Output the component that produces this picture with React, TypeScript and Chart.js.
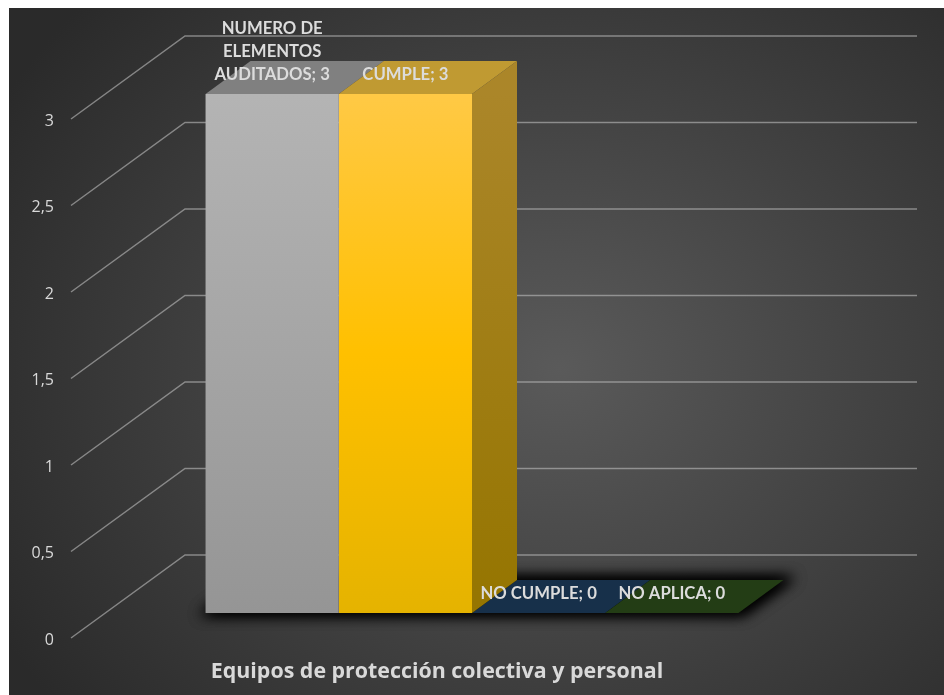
import React, { useEffect, useRef } from "react";
import { Chart, registerables } from "chart.js";

Chart.register(...registerables);

const categories = ["Equipos de protección colectiva y personal"];
const seriesNames = ["NUMERO DE ELEMENTOS AUDITADOS", "CUMPLE", "NO CUMPLE", "NO APLICA"];
const seriesValues = [3, 3, 0, 0];
const labelLines = [["NUMERO DE", "ELEMENTOS", "AUDITADOS"], ["CUMPLE"], ["NO CUMPLE"], ["NO APLICA"]];
const frontStops = [
  ["#b4b4b4", "#a5a5a5", "#959595"],
  ["#ffc945", "#ffc000", "#e5b300"],
  ["#17304a", "#17304a", "#17304a"],
  ["#233d15", "#233d15", "#233d15"],
];
const topColors = ["#808080", "#c09a32", "#17304a", "#233d15"];
const sideStops = ["#ab8629", "#957500"];

const W = 935;
const H = 687;
// depth of the floor, and the position of the bars inside it
const depth = { dx: 114, dy: -83 };
const barFront = { dx: 35, dy: -25 };
const barDepth = { dx: 45, dy: -33 };

function poly(ctx: CanvasRenderingContext2D, pts: number[][]) {
  ctx.beginPath();
  pts.forEach((p, i) => (i ? ctx.lineTo(p[0], p[1]) : ctx.moveTo(p[0], p[1])));
  ctx.closePath();
}

const scene3d = {
  id: "scene3d",
  beforeDraw(chart: any) {
    const ctx: CanvasRenderingContext2D = chart.ctx;
    ctx.save();
    ctx.translate(550, 360);
    ctx.scale(1, 0.85);
    const g = ctx.createRadialGradient(0, 0, 0, 0, 0, 640);
    g.addColorStop(0, "#5a5a5a");
    g.addColorStop(1, "#2a2a2a");
    ctx.fillStyle = g;
    ctx.fillRect(-800, -800, 1600, 1600);
    ctx.restore();
  },
  beforeDatasetsDraw(chart: any) {
    const ctx: CanvasRenderingContext2D = chart.ctx;
    const y = chart.scales.y;
    const { left, right } = chart.chartArea;

    // walls: diagonal plus horizontal gridline
    ctx.save();
    ctx.strokeStyle = "rgba(190,190,190,0.6)";
    ctx.lineWidth = 1.5;
    y.ticks.forEach((t: any) => {
      const py = y.getPixelForValue(t.value);
      ctx.beginPath();
      ctx.moveTo(left, py);
      ctx.lineTo(left + depth.dx, py + depth.dy);
      ctx.lineTo(right + depth.dx, py + depth.dy);
      ctx.stroke();
    });
    ctx.restore();

    const metas = seriesValues.map((_, i) => chart.getDatasetMeta(i).data[0]);
    const oy = barFront.dy;
    const ox = barFront.dx;
    const base = y.getPixelForValue(0) + oy;
    const x0 = metas[0].x - metas[0].width / 2 + ox;
    const xN = metas[3].x + metas[3].width / 2 + ox;

    // contact shadow below the floor of the bars: only the blur is painted
    ctx.save();
    ctx.shadowColor = "rgba(0,0,0,1)";
    ctx.shadowBlur = 14;
    ctx.shadowOffsetX = 3000;
    ctx.fillStyle = "#000";
    ctx.translate(-3000, 0);
    for (let k = 0; k < 2; k++) {
      poly(ctx, [
        [x0 - 6, base + 2],
        [xN + 4, base + 2],
        [xN + barDepth.dx + 12, base + barDepth.dy - 3],
        [x0 + barDepth.dx, base + barDepth.dy - 3],
      ]);
      ctx.fill();
    }
    ctx.restore();

    // tops and sides of the boxes, back to front
    metas.forEach((m: any, i: number) => {
      const l = m.x - m.width / 2 + ox;
      const r = m.x + m.width / 2 + ox;
      const t = m.y + oy;
      ctx.fillStyle = topColors[i];
      poly(ctx, [
        [l, t],
        [r, t],
        [r + barDepth.dx, t + barDepth.dy],
        [l + barDepth.dx, t + barDepth.dy],
      ]);
      ctx.fill();
    });
    const m = metas[1];
    const r = m.x + m.width / 2 + ox;
    const t = m.y + oy;
    const sg = ctx.createLinearGradient(0, t, 0, base);
    sg.addColorStop(0, sideStops[0]);
    sg.addColorStop(1, sideStops[1]);
    ctx.fillStyle = sg;
    poly(ctx, [
      [r, t],
      [r + barDepth.dx, t + barDepth.dy],
      [r + barDepth.dx, base + barDepth.dy],
      [r, base],
    ]);
    ctx.fill();

    // the bars themselves are drawn by Chart.js, in the plane of the bar fronts
    ctx.save();
    ctx.translate(ox, oy);
  },
  afterDatasetsDraw(chart: any) {
    const ctx: CanvasRenderingContext2D = chart.ctx;
    ctx.restore();
    ctx.save();
    ctx.font = "bold 16.7px Lato";
    ctx.fillStyle = "#dcdcdc";
    ctx.textAlign = "center";
    ctx.textBaseline = "middle";
    seriesValues.forEach((v, i) => {
      const m = chart.getDatasetMeta(i).data[0];
      const lines = labelLines[i].slice();
      lines[lines.length - 1] += "; " + String(v);
      const yLast = m.y + barFront.dy - 19;
      lines.forEach((line, k) => {
        ctx.fillText(line, m.x + barFront.dx, yLast - (lines.length - 1 - k) * 23);
      });
    });
    ctx.restore();
  },
};

export default function App() {
  const ref = useRef<HTMLCanvasElement>(null);
  useEffect(() => {
    document.body.style.margin = "8px 0 0 9px";
    const chart = new Chart(ref.current!, {
      type: "bar",
      plugins: [scene3d],
      data: {
        labels: categories,
        datasets: seriesNames.map((name, i) => ({
          label: name,
          data: [seriesValues[i]],
          borderWidth: 0,
          clip: false,
          backgroundColor: (c: any) => {
            const { chart: ch } = c;
            if (!ch.chartArea) return frontStops[i][1];
            const g = ch.ctx.createLinearGradient(0, ch.chartArea.top, 0, ch.chartArea.bottom);
            g.addColorStop(0, frontStops[i][0]);
            g.addColorStop(0.5, frontStops[i][1]);
            g.addColorStop(1, frontStops[i][2]);
            return g;
          },
          categoryPercentage: 0.728,
          barPercentage: 1,
        })),
      } as any,
      options: {
        responsive: false,
        animation: false,
        devicePixelRatio: 1,
        layout: { padding: { top: 111, right: 141, left: 0, bottom: 0 } },
        plugins: { legend: { display: false }, tooltip: { enabled: false } },
        scales: {
          x: {
            grid: { display: false },
            border: { display: false },
            ticks: {
              color: "#d9d9d9",
              padding: 13,
              maxRotation: 0,
              font: { family: "Open Sans", size: 21.4, weight: "bold" },
            },
            afterFit(s: any) {
              s.height = 57;
            },
          },
          y: {
            min: 0,
            max: 3,
            grid: { display: false },
            border: { display: false },
            afterFit(s: any) {
              s.width = 62;
            },
            ticks: {
              stepSize: 0.5,
              color: "#d9d9d9",
              padding: 9,
              labelOffset: 2,
              font: { family: "Open Sans", size: 16 },
              callback: (v: any) => String(v).replace(".", ","),
            },
          },
        },
      },
    } as any);
    return () => chart.destroy();
  }, []);
  return <canvas ref={ref} width={W} height={H} style={{ display: "block" }} />;
}
